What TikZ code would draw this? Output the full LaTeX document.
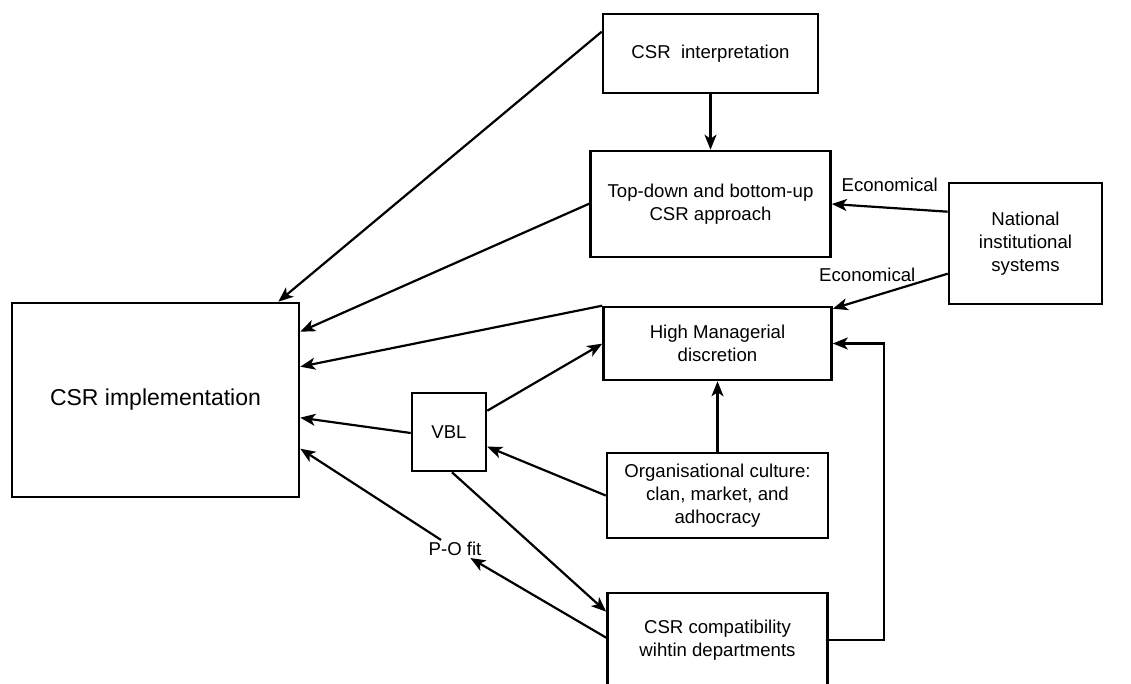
\documentclass[tikz,border=0pt]{standalone}
\usepackage{fontspec}
\setmainfont{Liberation Sans}
\usetikzlibrary{arrows.meta,positioning}

\begin{document}
\begin{tikzpicture}[x=1pt,y=-1pt,
box/.style={draw,line width=2.6pt,align=center,inner sep=2pt,font=\fontsize{18.6}{23.3}\selectfont},
arr/.style={-{Stealth[length=15pt,width=12pt,inset=4pt]},line width=2.2pt},
lbl/.style={font=\fontsize{18.6}{23.3}\selectfont,inner sep=2pt}]
\clip (0,0) rectangle (1131,684);
\node[box,minimum width=287pt,minimum height=194pt,font=\fontsize{23}{28}\selectfont] (impl) at (155.5,400) {CSR implementation};
\node[box,minimum width=215pt,minimum height=79pt] (interp) at (710.5,53.5) {CSR\ \ interpretation};
\node[box,minimum width=240pt,minimum height=106pt,below=55.4pt of interp] (approach) {Top-down and bottom-up\\CSR approach};
\node[box,minimum width=228pt,minimum height=73pt,below=47.4pt of approach,xshift=7pt] (discretion) {High Managerial\\discretion};
\node[box,minimum width=221pt,minimum height=85pt,below=70.4pt of discretion] (culture) {Organisational culture:\\clan, market, and\\adhocracy};
\node[box,minimum width=220pt,minimum height=94pt,below=52.4pt of culture] (compat) {CSR compatibility\\wihtin departments};
\node[box,minimum width=153pt,minimum height=121pt] (national) at (1025.5,243.5) {National\\institutional\\systems};
\node[box,minimum width=74pt,minimum height=78pt] (vbl) at (449,432) {VBL};
\node[lbl] (pofit) at (455,549) {P-O fit};
% links into CSR implementation
\draw[arr] ([yshift=-19pt]interp.north west) -- ([xshift=-22pt]impl.north east);
\draw[arr] ([yshift=-54pt]approach.north west) -- ([yshift=-30pt]impl.north east);
\draw[arr] (discretion.north west) -- ([yshift=-65pt]impl.north east);
\draw[arr] ([yshift=-1pt]vbl.west) -- ([yshift=-116pt]impl.north east);
\draw[arr] ([yshift=-46pt]compat.north west) -- (pofit);
\draw[arr] (pofit) -- ([yshift=-147pt]impl.north east);
% right column
\draw[arr] (interp) -- (approach);
\draw[arr] ([yshift=-30pt]national.north west) -- node[lbl,pos=0.5,above=13pt]{Economical} (approach.east);
\draw[arr] ([yshift=-92pt]national.north west) -- node[lbl,pos=0.7,above=13pt]{Economical} ([yshift=-3pt]discretion.north east);
\draw[arr] (culture) -- (discretion);
\draw[arr] (compat.east) -- ++(55pt,0) |- (discretion.east);
% VBL
\draw[arr] ([yshift=-19pt]vbl.north east) -- ([yshift=-38pt]discretion.north west);
\draw[arr] (culture.west) -- ([yshift=-55pt]vbl.north east);
\draw[arr] ([xshift=3pt]vbl.south) -- ([yshift=-20pt]compat.north west);
\end{tikzpicture}
\end{document}
